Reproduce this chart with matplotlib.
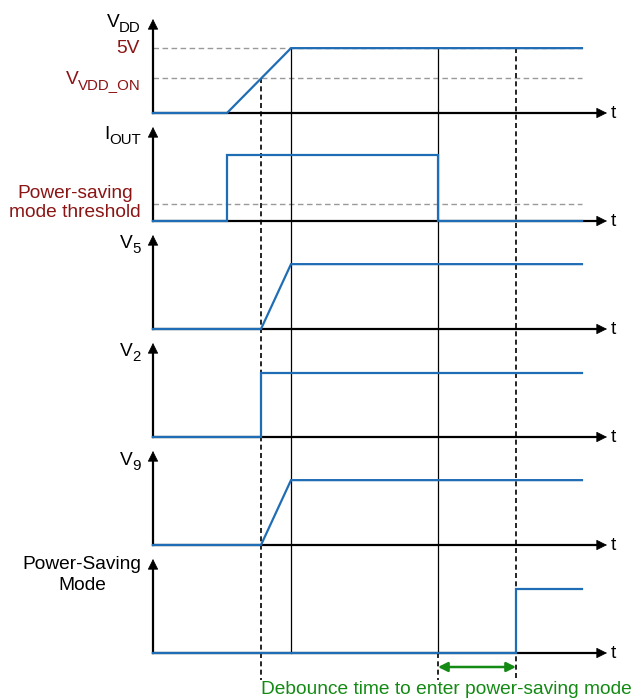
import matplotlib.pyplot as plt

plt.rcParams['font.family'] = ['Liberation Sans', 'DejaVu Sans']

# event times (arbitrary units, t=0 at the vertical axis)
t_vdd_rise = 7.4      # VDD starts ramping, IOUT steps up
t_vdd_on = 10.8       # VDD crosses V_VDD_ON
t_vdd_full = 13.8     # VDD reaches 5V
t_iout_low = 28.5     # IOUT drops below threshold
t_psm = 36.3          # power-saving mode entered
t_end = 42.9          # end of drawn waveforms
t_axis = 45.4         # end of time arrow

# normalized levels (1.0 = arrow tip)
vdd_5v = 0.69
vdd_on = 0.37
iout_high = 0.70
iout_thr = 0.18
v5_high = 0.69
v2_high = 0.68
v9_high = 0.69
psm_high = 0.68

# waveforms: (times, levels)
vdd_t = [0, t_vdd_rise, t_vdd_full, t_end]
vdd_v = [0, 0, vdd_5v, vdd_5v]
iout_t = [0, t_vdd_rise, t_vdd_rise, t_iout_low, t_iout_low, t_end]
iout_v = [0, 0, iout_high, iout_high, 0, 0]
v5_t = [0, t_vdd_on, t_vdd_full, t_end]
v5_v = [0, 0, v5_high, v5_high]
v2_t = [0, t_vdd_on, t_vdd_on, t_end]
v2_v = [0, 0, v2_high, v2_high]
v9_t = [0, t_vdd_on, t_vdd_full, t_end]
v9_v = [0, 0, v9_high, v9_high]
psm_t = [0, t_psm, t_psm, t_end]
psm_v = [0, 0, psm_high, psm_high]

waves = [(vdd_t, vdd_v), (iout_t, iout_v), (v5_t, v5_v),
         (v2_t, v2_v), (v9_t, v9_v), (psm_t, psm_v)]
# (main letter, subscript)
names = [('V', 'DD'), ('I', 'OUT'), ('V', '5'), ('V', '2'), ('V', '9')]

blue = '#1f6db5'
red = '#8b1414'
green = '#138a13'

fig = plt.figure(figsize=(6.32, 7), dpi=100)
ax = fig.add_axes([0, 0, 1, 1])
ax.set_xlim(-15.3, 47.9)
ax.set_ylim(700, 0)
ax.axis('off')
renderer = fig.canvas.get_renderer()

base0, gap, amp = 113, 108, 94
bases = [base0 + gap * i for i in range(len(waves))]


def y(i, v):
    return bases[i] - amp * v


fs = 13.8
fs_sub = 10.8


def sub_label(x, yy, main, sub, color='black'):
    # subscript placed first (right aligned), main letter to its left
    s = ax.text(x, yy + 5, sub, fontsize=fs_sub, color=color,
                ha='right', va='baseline')
    bb = s.get_window_extent(renderer)
    left = ax.transData.inverted().transform((bb.x0, bb.y0))[0]
    ax.text(left, yy, main, fontsize=fs, color=color, ha='right', va='baseline')


for i, (tt, vv) in enumerate(waves):
    b = bases[i]
    # axes with arrows
    ax.plot([0, t_axis - 1], [b, b], color='black', lw=1.6, zorder=2)
    ax.plot([0, 0], [b, y(i, 1) + 8], color='black', lw=1.6, zorder=2)
    ax.annotate('', xy=(t_axis, b), xytext=(t_axis - 1.5, b),
                arrowprops=dict(arrowstyle='-|>', color='black', lw=0.5,
                                mutation_scale=17, shrinkA=0, shrinkB=0))
    ax.annotate('', xy=(0, y(i, 1)), xytext=(0, y(i, 1) + 12),
                arrowprops=dict(arrowstyle='-|>', color='black', lw=0.5,
                                mutation_scale=17, shrinkA=0, shrinkB=0))
    ax.text(t_axis + 0.4, b, 't', fontsize=fs, va='center', ha='left')
    ax.plot(tt, [y(i, v) for v in vv], color=blue, lw=1.6, zorder=3,
            solid_joinstyle='miter')

# channel labels
label_base = [27, 139, 248, 356, 465]
for (m, s), yy in zip(names, label_base):
    sub_label(-1.2, yy, m, s)
ax.text(-7.1, 575, 'Power-Saving\nMode', fontsize=fs, ha='center', va='center',
        linespacing=1.3)

# VDD reference levels
for lvl in [vdd_5v, vdd_on]:
    ax.plot([0, t_end], [y(0, lvl)] * 2, color='#999999', lw=1.0,
            ls=(0, (4, 2.5)), zorder=1)
ax.text(-1.3, y(0, vdd_5v), '5V', color=red, fontsize=fs, ha='right', va='center')
sub_label(-1.2, 84, 'V', 'VDD_ON', color=red)

# IOUT threshold
ax.plot([0, t_end], [y(1, iout_thr)] * 2, color='#999999', lw=1.0,
        ls=(0, (4, 2.5)), zorder=1)
ax.text(-7.8, 203, 'Power-saving\nmode threshold', color=red, fontsize=fs,
        ha='center', va='center', linespacing=1.15)

# vertical markers
low = bases[-1] + 27
ax.plot([t_vdd_on] * 2, [y(0, vdd_on), low], color='black', lw=1.2,
        ls=(0, (3, 2)), zorder=1)
ax.plot([t_vdd_full] * 2, [y(0, vdd_5v), bases[-1]], color='black', lw=0.9, zorder=1)
ax.plot([t_iout_low] * 2, [y(0, vdd_5v), bases[-1]], color='black', lw=0.9, zorder=1)
ax.plot([t_iout_low] * 2, [bases[-1], low], color='black', lw=1.2,
        ls=(0, (3, 2)), zorder=1)
ax.plot([t_psm] * 2, [y(0, vdd_5v), low], color='black', lw=1.2,
        ls=(0, (3, 2)), zorder=1)

# debounce arrow
ax.annotate('', xy=(t_psm, 667), xytext=(t_iout_low, 667),
            arrowprops=dict(arrowstyle='<|-|>', color=green, lw=1.8,
                            mutation_scale=14, shrinkA=0, shrinkB=0))
ax.text(29.3, 689, 'Debounce time to enter power-saving mode',
        color=green, fontsize=fs, ha='center', va='center')

fig.savefig('out.png', dpi=100)
